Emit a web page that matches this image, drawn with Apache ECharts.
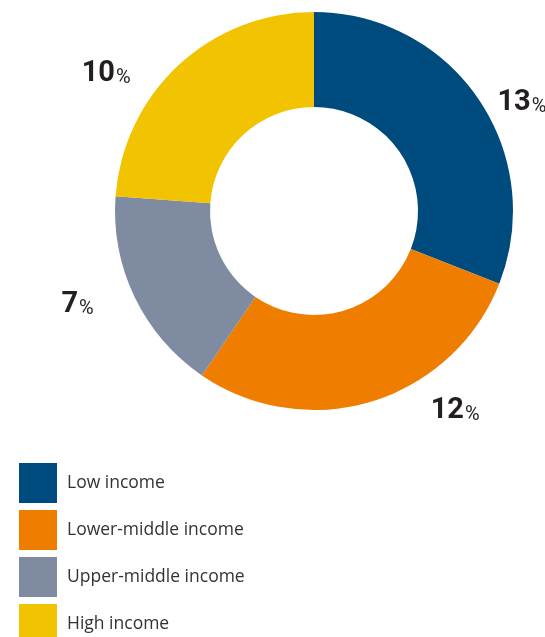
<!DOCTYPE html>
<html><head><meta charset="utf-8">
<script src="https://cdn.jsdelivr.net/npm/echarts@6/dist/echarts.min.js"></script>
<style>html,body{margin:0;padding:0;background:#fff}#c{width:545px;height:637px}</style>
</head><body><div id="c"></div>
<script>
const categories = ['Low income', 'Lower-middle income', 'Upper-middle income', 'High income'];
const values = [13, 12, 7, 10];
const colors = ['#004B7D', '#EF7D00', '#7F8BA1', '#F2C300'];
const labelShift = [[19, 3], [58, 9], [-41, 7], [-48, 8]];

const chart = echarts.init(document.getElementById('c'), null, {renderer: 'canvas'});
chart.setOption({
  animation: false,
  color: colors,
  legend: {
    orient: 'vertical', left: 19, top: 463, height: 200, padding: 0,
    itemWidth: 38, itemHeight: 40, itemGap: 7, icon: 'rect',
    textStyle: {fontFamily: 'Open Sans', fontSize: 17.5, color: '#333', padding: [3, 0, 0, 5]},
    data: categories
  },
  series: [{
    type: 'pie',
    center: [314, 211],
    radius: [104, 199],
    startAngle: 90,
    clockwise: true,
    avoidLabelOverlap: false,
    label: {
      show: true, position: 'outside', distanceToLabelLine: 0,
      formatter: p => '{n|' + p.value + '}{p|%}',
      rich: {
        n: {fontFamily: 'Roboto', fontWeight: 'bold', fontSize: 29, color: '#231F20', verticalAlign: 'bottom', lineHeight: 30},
        p: {fontFamily: 'Roboto', fontSize: 20, color: '#231F20', verticalAlign: 'bottom', lineHeight: 27, padding: [0, 0, 0, 1]}
      }
    },
    labelLine: {show: false, length: 0, length2: 0},
    labelLayout: p => ({dx: labelShift[p.dataIndex][0], dy: labelShift[p.dataIndex][1]}),
    emphasis: {disabled: true},
    data: categories.map((c, i) => ({name: c, value: values[i]}))
  }]
});
</script></body></html>
